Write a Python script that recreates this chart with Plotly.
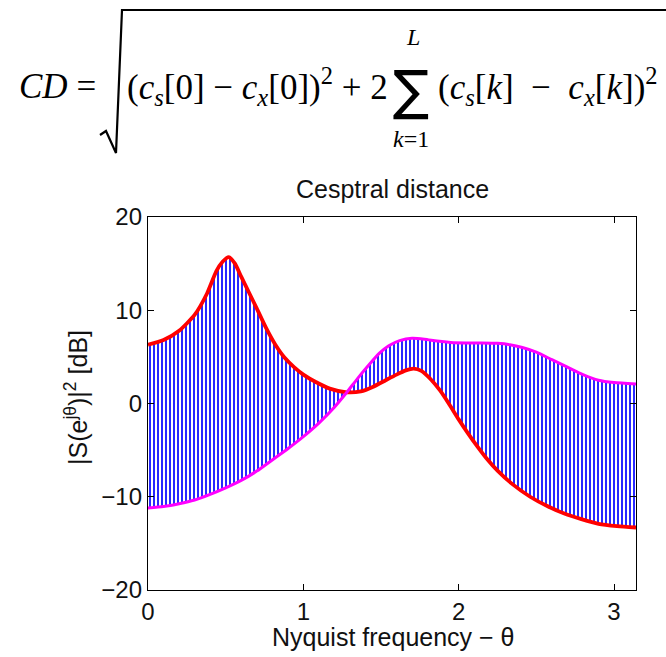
import plotly.graph_objects as go
import math

# ---------------- data ----------------
theta_red = [0.00, 0.10, 0.20, 0.30, 0.38, 0.44, 0.48, 0.52, 0.56, 0.60, 0.65, 0.70, 0.76,
             0.82, 0.88, 0.94, 1.00, 1.08, 1.17, 1.28, 1.37, 1.45, 1.53, 1.60, 1.66, 1.71,
             1.76, 1.82, 1.88, 1.94, 2.00, 2.06, 2.12, 2.18, 2.25, 2.35, 2.46, 2.57, 2.68,
             2.79, 2.90, 3.02, 3.1416]
db_red = [6.3, 6.8, 7.8, 9.5, 11.8, 14.2, 15.2, 15.7, 15.0, 13.6, 11.9, 10.2, 8.1,
          6.3, 4.9, 3.9, 3.1, 2.3, 1.6, 1.2, 1.3, 1.8, 2.5, 3.1, 3.55, 3.75,
          3.5, 2.6, 1.4, -0.1, -1.7, -3.2, -4.6, -5.9, -7.2, -8.7, -10.0, -11.0, -11.8,
          -12.4, -12.9, -13.15, -13.3]

theta_mag = [0.00, 0.10, 0.20, 0.30, 0.40, 0.50, 0.60, 0.70, 0.80, 0.90, 1.00, 1.10, 1.20,
             1.28, 1.35, 1.42, 1.49, 1.55, 1.62, 1.70, 1.78, 1.86, 1.95, 2.05, 2.15, 2.25,
             2.33, 2.41, 2.50, 2.60, 2.70, 2.80, 2.90, 3.00, 3.1416]
db_mag = [-11.2, -11.05, -10.75, -10.35, -9.75, -9.05, -8.25, -7.25, -6.05, -4.85, -3.55, -2.1, -0.4,
          1.2, 2.7, 4.1, 5.4, 6.2, 6.75, 7.0, 6.9, 6.7, 6.55, 6.5, 6.5, 6.45,
          6.3, 6.0, 5.5, 4.7, 3.9, 3.1, 2.5, 2.25, 2.1]

x_ticks = [0, 1, 2, 3]
y_ticks = [-20, -10, 0, 10, 20]

# ---------------- layout geometry ----------------
W, H = 666, 657
L, R, T, B = 148, 30, 217, 67
PW, PH = W - L - R, H - T - B


def px(x):
    return (x - L) / PW


def py(y):
    return (H - B - y) / PH


fig = go.Figure()
fig.add_trace(go.Scatter(x=theta_red, y=db_red, mode="lines",
                         line=dict(color="#ff0000", width=3.8, shape="spline", smoothing=0.6),
                         hoverinfo="skip", showlegend=False))
fig.add_trace(go.Scatter(x=theta_mag, y=db_mag, mode="lines",
                         line=dict(color="#ff00ff", width=3, shape="spline", smoothing=0.6),
                         fill="tonexty", fillcolor="rgba(0,0,0,0)",
                         fillpattern=dict(shape="|", fgcolor="#0000ff", bgcolor="rgba(0,0,0,0)",
                                          size=4, solidity=0.42, fillmode="replace"),
                         hoverinfo="skip", showlegend=False))

tickfont = dict(family="Liberation Sans, Arial, sans-serif", size=24, color="#111")
fig.update_xaxes(range=[0, math.pi], tickvals=x_ticks, ticktext=[str(v) for v in x_ticks],
                 ticks="inside", ticklen=6, tickcolor="black", showline=True, linecolor="black",
                 linewidth=1.4, mirror="ticks", showgrid=False, zeroline=False, tickfont=tickfont)
fig.update_yaxes(range=[-20, 20], tickvals=y_ticks, ticktext=[str(v).replace("-", "−") for v in y_ticks],
                 ticks="inside", ticklen=6, tickcolor="black", showline=True, linecolor="black",
                 linewidth=1.4, mirror="ticks", showgrid=False, zeroline=False, tickfont=tickfont)

sans = dict(family="Liberation Sans, Arial, sans-serif", size=25, color="#111")
serif = dict(family="Liberation Serif, DejaVu Serif, serif", size=35, color="black")
small_serif = dict(family="Liberation Serif, serif", size=24, color="black")
EN = "\u2002"
ann = [
    dict(text="Cesptral distance", x=px(392), y=py(189), font=sans),
    dict(text="Nyquist frequency − θ", x=px(393), y=py(637), font=sans),
    dict(text="|S(e<sup>jθ</sup>)|<sup>2</sup> [dB]", x=px(76), y=py(398), font=sans, textangle=-90),
    dict(text="<i>CD</i> =", x=px(98), y=py(86), font=serif, xanchor="right"),
    dict(text="(<i>c</i><sub><i>s</i></sub>[0] − <i>c</i><sub><i>x</i></sub>[0])<sup>2</sup> + 2",
         x=px(125), y=py(86), font=serif, xanchor="left"),
    dict(text="∑", x=px(411), y=py(90), font=dict(family="DejaVu Sans, sans-serif", size=54, color="black")),
    dict(text="<i>L</i>", x=px(413), y=py(37), font=small_serif),
    dict(text="<i>k</i>=1", x=px(411), y=py(139), font=small_serif),
    dict(text="(<i>c</i><sub><i>s</i></sub>[<i>k</i>]" + EN + "−" + EN + "<i>c</i><sub><i>x</i></sub>[<i>k</i>])<sup>2</sup>",
         x=px(436), y=py(86), font=serif, xanchor="left"),
]
annotations = []
for a in ann:
    d = dict(xref="paper", yref="paper", showarrow=False, xanchor=a.get("xanchor", "center"),
             yanchor="middle")
    d.update({k: v for k, v in a.items() if k != "xanchor"})
    annotations.append(d)

pts = [(100, 135), (106, 131), (116, 153), (122, 10), (666, 10)]
path = "M " + " L ".join(f"{px(x):.5f},{py(y):.5f}" for x, y in pts)
shapes = [dict(type="path", xref="paper", yref="paper", path=path,
               line=dict(color="black", width=2.2))]

fig.update_layout(width=W, height=H, margin=dict(l=L, r=R, t=T, b=B, autoexpand=False),
                  paper_bgcolor="white", plot_bgcolor="white",
                  annotations=annotations, shapes=shapes, showlegend=False)

fig.write_html("out.html")
